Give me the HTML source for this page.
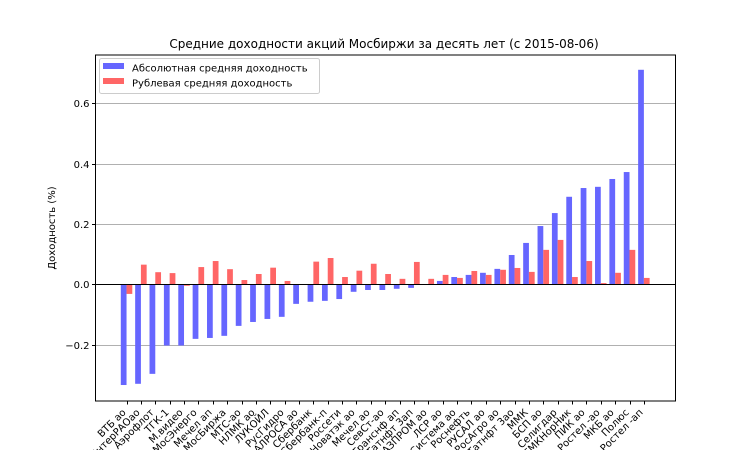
<!DOCTYPE html>
<html><head><meta charset="utf-8"><style>
html,body{margin:0;padding:0;background:#fff;width:750px;height:450px;overflow:hidden;}
svg{display:block;font-family:"DejaVu Sans","Liberation Sans",sans-serif;}
</style></head><body>
<svg id="chart" width="750" height="450" viewBox="0 0 750 450">
<rect width="750" height="450" fill="#fff"/>
<text x="384" y="48" font-size="12" text-anchor="middle">Средние доходности акций Мосбиржи за десять лет (с 2015-08-06)</text>
<g id="grid"></g><g id="bars"></g><g id="axes"></g>
<text transform="translate(55,228) rotate(-90)" font-size="10" text-anchor="middle">Доходность (%)</text>
<g>
<rect x="99.5" y="58.5" width="220" height="35" rx="2" fill="#fff" fill-opacity="0.8" stroke="#ccc"/>
<rect x="103" y="63" width="21" height="6" fill="#6666ff"/>
<text x="132" y="71.5" font-size="10">Абсолютная средняя доходность</text>
<rect x="103" y="78" width="21" height="6" fill="#ff6666"/>
<text x="132" y="86.5" font-size="10">Рублевая средняя доходность</text>
</g>
</svg>
<script>
const categories = ["ВТБ ао","ИнтерРАОао","Аэрофлот","ТГК-1","М.видео","МосЭнерго","Мечел ап","МосБиржа","МТС-ао","НЛМК ао","ЛУКОЙЛ","РусГидро","АЛРОСА ао","Сбербанк","Сбербанк-п","Россети","Новатэк ао","Мечел ао","СевСт-ао","Транснф ап","Татнфт 3ап","ГАЗПРОМ ао","ЛСР ао","АФКСистема ао","Роснефть","РУСАЛ ао","РосАгро ао","Татнфт 3ао","ММК","БСП ао","Селигдар","ГМКНорНик","ПИК ао","Ростел -ао","МКБ ао","Полюс","Ростел -ап"];
const absoluteReturns = [-0.334,-0.33,-0.297,-0.203,-0.203,-0.181,-0.178,-0.171,-0.138,-0.125,-0.115,-0.108,-0.065,-0.058,-0.055,-0.049,-0.025,-0.019,-0.019,-0.015,-0.012,0.0,0.011,0.024,0.031,0.038,0.051,0.097,0.137,0.193,0.236,0.29,0.319,0.323,0.349,0.372,0.711];
const rubleReturns = [-0.032,0.065,0.04,0.037,-0.005,0.057,0.077,0.05,0.014,0.034,0.055,0.011,0.0,0.075,0.087,0.024,0.045,0.068,0.034,0.018,0.074,0.018,0.031,0.021,0.044,0.031,0.048,0.054,0.041,0.114,0.147,0.024,0.077,0.004,0.038,0.114,0.021];
const yTicks = [-0.2,0.0,0.2,0.4,0.6];
const yTickLabels = ["−0.2","0.0","0.2","0.4","0.6"];

const NS="http://www.w3.org/2000/svg";
const L=95.5,R=675.5,T=55,B=401;
const xMin=-2.16,xMax=38.2,yMin=-0.387,yMax=0.76;
const xs=v=>L+(v-xMin)/(xMax-xMin)*(R-L);
const ys=v=>B-(v-yMin)/(yMax-yMin)*(B-T);
function mk(tag,attrs,parent){const e=document.createElementNS(NS,tag);for(const k in attrs)e.setAttribute(k,attrs[k]);parent.appendChild(e);return e;}
const grid=document.getElementById('grid'),bars=document.getElementById('bars'),axes=document.getElementById('axes');
yTicks.forEach((t,i)=>{
  const y=Math.round(ys(t))+0.5;
  if(t!==0){const g=mk('line',{x1:L,x2:R,y1:y,y2:y,stroke:'#b0b0b0','stroke-width':1},grid);
  
  }
  const tk=mk('line',{x1:L-3.5,x2:L,y1:y,y2:y,stroke:'#000'},axes);
  
  
  const tx=mk('text',{x:L-6,y:y+3.5,'font-size':10,'text-anchor':'end'},axes);
  tx.textContent=yTickLabels[i];
  
  
});
const w=0.4;
categories.forEach((c,i)=>{
  const a=absoluteReturns[i],r=rubleReturns[i];
  const b1=mk('rect',{x:xs(i-w),width:xs(i)-xs(i-w),y:ys(Math.max(a,0)),height:Math.abs(ys(a)-ys(0)),fill:'#6666ff'},bars);
  
  
  const b2=mk('rect',{x:xs(i),width:xs(i+w)-xs(i),y:ys(Math.max(r,0)),height:Math.abs(ys(r)-ys(0)),fill:'#ff6666'},bars);
  
  
  const x=Math.round(xs(i))+0.5;
  const tk=mk('line',{x1:x,x2:x,y1:B,y2:B+3.5,stroke:'#000'},axes);
  
  
  const ax=x-1, ay=B+12;
  const tx=mk('text',{x:ax,y:ay,'font-size':10,'text-anchor':'end',transform:`rotate(-45 ${ax} ${ay})`},axes);
  tx.textContent=c;
  
  
});
const z=Math.round(ys(0))+0.5;
const zl=mk('line',{x1:L,x2:R,y1:z,y2:z,stroke:'#000','stroke-width':1},axes);


const fr=mk('rect',{x:L,y:T,width:R-L,height:B-T,fill:'none',stroke:'#000','stroke-width':1},axes);


</script>
</body></html>
